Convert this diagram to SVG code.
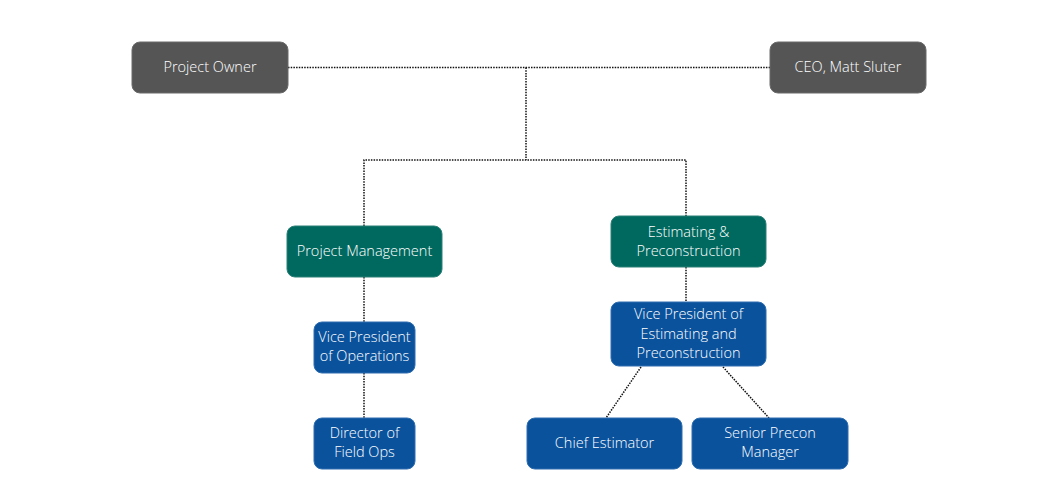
<svg xmlns="http://www.w3.org/2000/svg" width="1049" height="491" viewBox="0 0 1049 491">
<style>
.gray{fill:#555555;stroke:#6a6a6a;stroke-width:1}
.teal{fill:#00695f;stroke:#2a8077;stroke-width:1}
.blue{fill:#0a529c;stroke:#2e6db0;stroke-width:1}
text{font-family:"Open Sans","Lato",sans-serif;font-size:14.5px;font-weight:300;fill:#ffffff;text-anchor:middle}
.conn{fill:none;stroke:#111;stroke-width:1.5;stroke-dasharray:1.5 1.2}
</style>
<rect width="1049" height="491" fill="#ffffff"/>
<g id="connectors">
<path class="conn" d="M288 67.5H770"/>
<path class="conn" d="M526 67.5V160"/>
<path class="conn" d="M364 226V160H686V216"/>
<path class="conn" d="M686 267V302"/>
<path class="conn" d="M364 277V322"/>
<path class="conn" d="M364 373V418"/>
<path class="conn" d="M641 367L606 418"/>
<path class="conn" d="M723 367L769 418"/>
</g>
<g id="project-owner"><rect class="gray" x="132" y="42" width="156" height="51" rx="8"/><text x="210" y="72">Project Owner</text></g>
<g id="ceo"><rect class="gray" x="770" y="42" width="156" height="51" rx="8"/><text x="848" y="72">CEO, Matt Sluter</text></g>
<g id="project-management"><rect class="teal" x="287" y="226" width="155" height="51" rx="8"/><text x="364.5" y="256">Project Management</text></g>
<g id="estimating"><rect class="teal" x="611" y="216" width="155" height="51" rx="8"/><text x="688.5" y="237">Estimating &amp;</text><text x="688.5" y="256">Preconstruction</text></g>
<g id="vp-ops"><rect class="blue" x="314" y="322" width="101" height="51" rx="8"/><text x="364.5" y="342">Vice President</text><text x="364.5" y="361">of Operations</text></g>
<g id="director"><rect class="blue" x="314" y="418" width="101" height="51" rx="8"/><text x="364.5" y="438">Director of</text><text x="364.5" y="457">Field Ops</text></g>
<g id="vp-est"><rect class="blue" x="611" y="302" width="155" height="64" rx="8"/><text x="688.5" y="319">Vice President of</text><text x="688.5" y="339">Estimating and</text><text x="688.5" y="358">Preconstruction</text></g>
<g id="chief-estimator"><rect class="blue" x="527" y="418" width="155" height="51" rx="8"/><text x="604.5" y="448">Chief Estimator</text></g>
<g id="senior-precon"><rect class="blue" x="692" y="418" width="156" height="51" rx="8"/><text x="770" y="438">Senior Precon</text><text x="770" y="457">Manager</text></g>
</svg>
